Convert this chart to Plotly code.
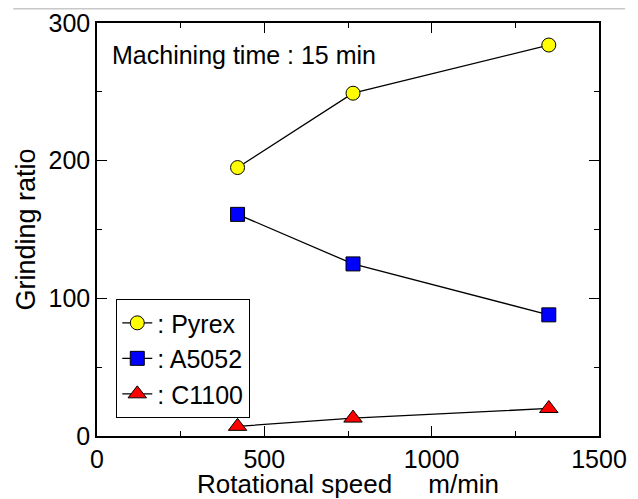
import plotly.graph_objects as go

speed = [420, 765, 1350]
pyrex = [195, 249, 284]
a5052 = [161, 125, 88]
c1100 = [7, 13, 20]

series_names = [": Pyrex", ": A5052", ": C1100"]
x_ticks = [0, 500, 1000, 1500]
y_ticks = [0, 100, 200, 300]

FONT = "Liberation Sans, Arial, sans-serif"
FS = 25

fig = go.Figure()
styles = [
    (pyrex, "circle", "#ffff00", 14),
    (a5052, "square", "#0000ff", 14),
    (c1100, "triangle-up", "#ff0000", 16),
]
for name, (vals, sym, col, sz) in zip(series_names, styles):
    fig.add_trace(go.Scatter(
        x=speed, y=vals, name=name, mode="lines+markers",
        line=dict(color="black", width=1.3),
        marker=dict(symbol=sym, color=col, size=sz, line=dict(color="black", width=1)),
    ))

axis_common = dict(
    showline=True, linecolor="black", linewidth=1.5, mirror="ticks",
    ticks="inside", ticklen=10, tickwidth=1.2, tickcolor="black",
    showgrid=False, zeroline=False, automargin=False,
    tickfont=dict(size=FS, color="black", family=FONT),
)

fig.update_xaxes(
    range=[0, 1500], tickvals=x_ticks, ticktext=[str(v) for v in x_ticks],
    minor=dict(ticks="inside", ticklen=5, tickwidth=1.2, tickcolor="black", dtick=250, tick0=0, showgrid=False),
    **axis_common,
)
fig.update_yaxes(
    range=[0, 300], tickvals=y_ticks, ticktext=[str(v) for v in y_ticks],
    minor=dict(ticks="inside", ticklen=5, tickwidth=1.2, tickcolor="black", dtick=50, tick0=0, showgrid=False),
    title=dict(text="Grinding ratio", font=dict(size=27, color="black", family=FONT), standoff=5),
    **axis_common,
)

fig.add_annotation(
    text="Rotational speed\u00a0\u00a0\u00a0\u00a0\u00a0m/min", xref="paper", yref="paper",
    x=0.5, y=-0.116, xanchor="center", yanchor="middle", showarrow=False,
    font=dict(size=26, color="black", family=FONT),
)

fig.add_annotation(
    text="Machining time : 15 min", xref="paper", yref="paper",
    x=0.026, y=0.922, xanchor="left", yanchor="middle", showarrow=False,
    font=dict(size=FS, color="black", family=FONT),
)

fig.add_shape(type="line", xref="paper", yref="paper",
              x0=-0.167, x1=1.052, y0=1.0345, y1=1.0345,
              line=dict(color="#c8c8c8", width=1.5))

fig.update_layout(
    width=630, height=491,
    margin=dict(l=89, r=39, t=15, b=63, autoexpand=False),
    paper_bgcolor="white", plot_bgcolor="white",
    font=dict(family=FONT, color="black"),
    legend=dict(
        x=0.038, y=0.332, xanchor="left", yanchor="top",
        bordercolor="black", borderwidth=1.2, bgcolor="white",
        font=dict(size=FS, color="black", family=FONT),
        itemwidth=30, tracegroupgap=0,
    ),
    showlegend=True,
)

fig.write_html("out.html")
